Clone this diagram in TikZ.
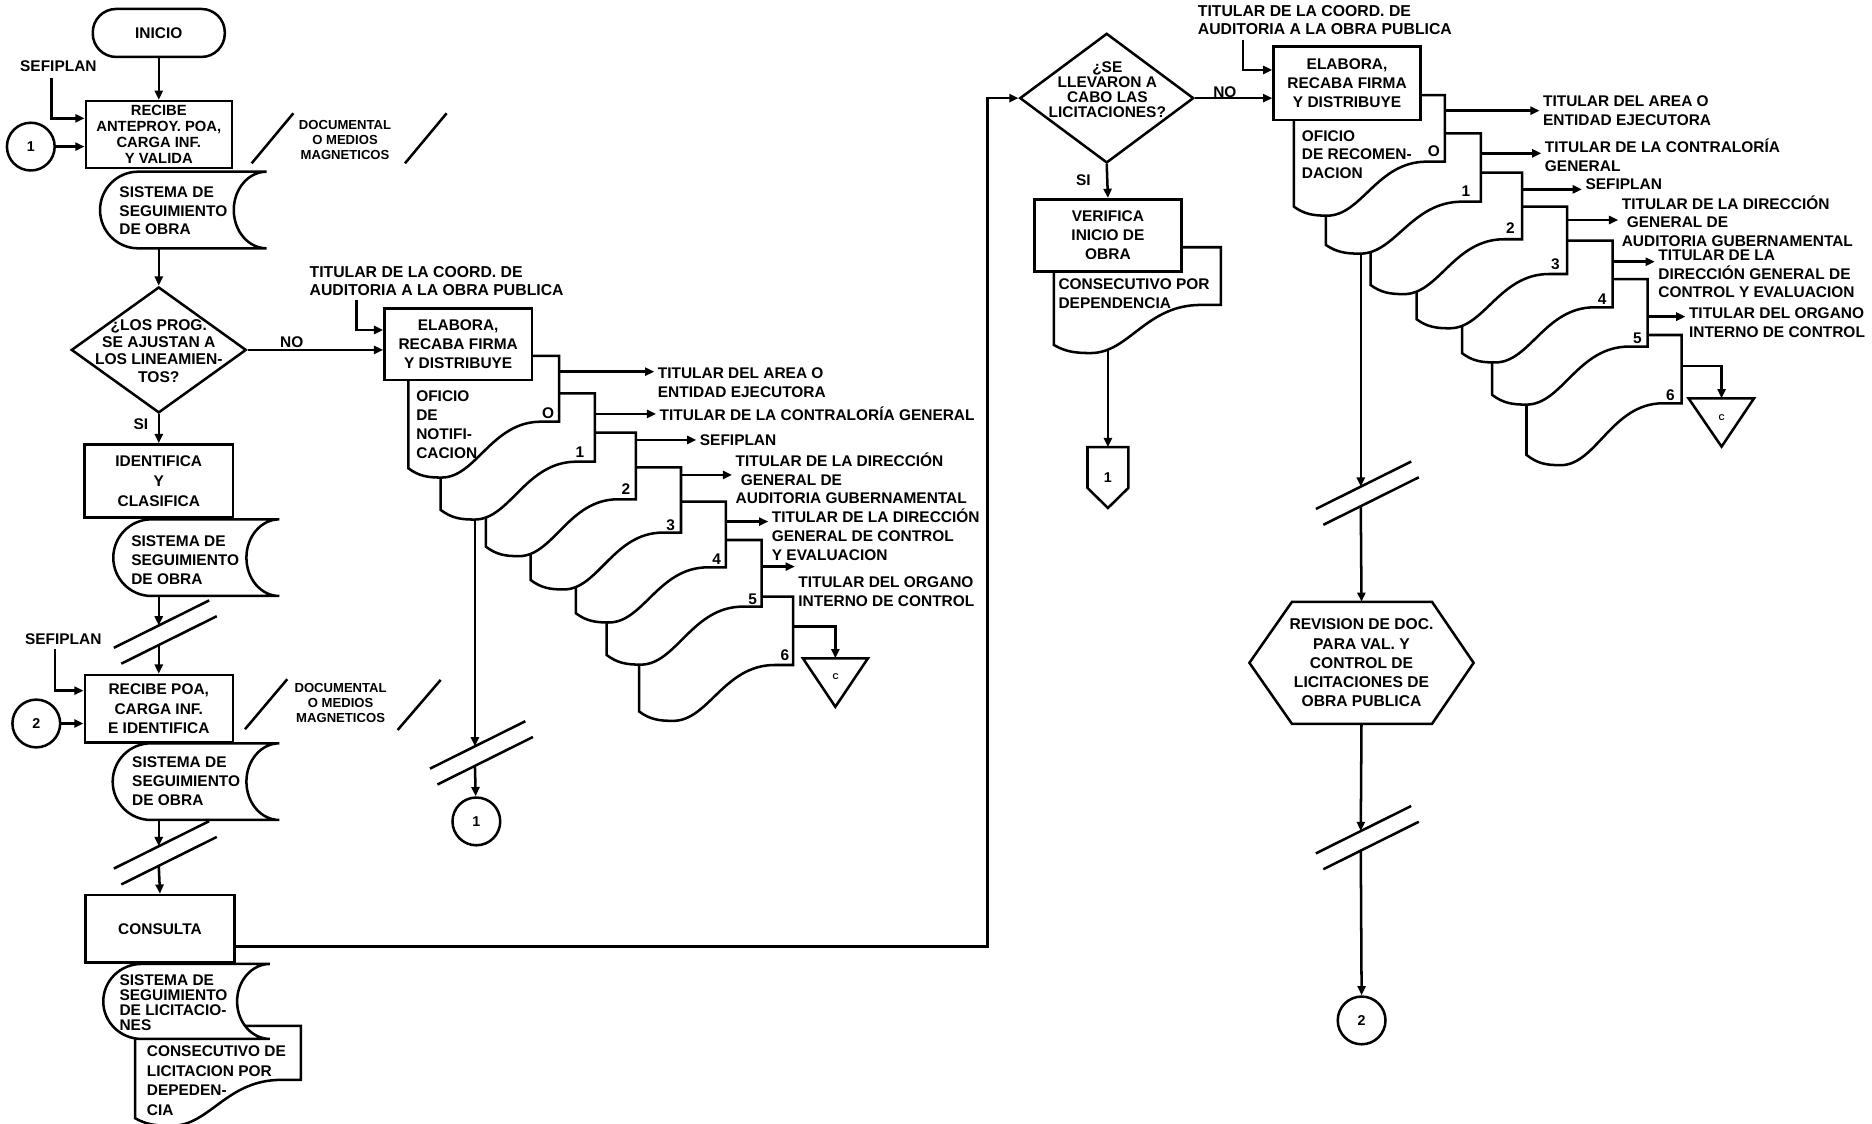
\documentclass[tikz,border=0pt]{standalone}
\usepackage{fontspec}
\setmainfont{Liberation Sans}
\usetikzlibrary{arrows.meta,shapes.geometric,calc}

\newcommand{\px}{0.025cm}

% stored data shape: x1, y1, x2, y2
\newcommand{\storeshape}[4]{%
  \pgfmathsetmacro{\smid}{(#2+#4)/2}%
  \pgfmathsetmacro{\shalf}{(#4-#2)/2}%
  \draw[fill=white] ({#1+32},#2) -- (#3,#2)
    .. controls ({#3-15.2},#2) and ({#3-27.5},{\smid-0.552*\shalf}) .. ({#3-27.5},\smid)
    .. controls ({#3-27.5},{\smid+0.552*\shalf}) and ({#3-15.2},#4) .. (#3,#4)
    -- ({#1+32},#4)
    .. controls ({#1+14.3},#4) and (#1,{\smid+0.552*\shalf}) .. (#1,\smid)
    .. controls (#1,{\smid-0.552*\shalf}) and ({#1+14.3},#2) .. ({#1+32},#2) -- cycle;}

% document shape: left, top, right, right bottom, left bottom
\newcommand{\docshape}[5]{%
  \pgfmathsetmacro{\dkw}{#3-#1}%
  \pgfmathsetmacro{\dkd}{#5-#4}%
  \draw[fill=white] (#1,#2) -- (#3,#2) -- (#3,#4) -- ({#1+0.88*\dkw},#4)
    .. controls ({#1+0.55*\dkw},#4) and ({#1+0.45*\dkw},{#5+0.2*\dkd}) .. ({#1+0.22*\dkw},{#5+0.2*\dkd})
    .. controls ({#1+0.13*\dkw},{#5+0.2*\dkd}) and ({#1+0.07*\dkw},{#5+0.17*\dkd}) .. (#1,#5) -- cycle;}

% break mark on a flow line: name, x, y of upper stroke
\newcommand{\breakmark}[3]{%
  \draw ({#2-37.6},{#3+18.7}) -- ({#2+42.2},{#3-21});
  \draw ({#2-31.4},{#3+32}) -- ({#2+48.6},{#3-7.8});
  \coordinate (#1a) at (#2,#3);
  \coordinate (#1b) at (#2,{#3+16.4});}

\begin{document}
\begin{tikzpicture}[x=\px, y=-\px, line width=1.5pt, >={Triangle[length=5.5pt,width=4.8pt]},
    lbl/.style={inner sep=0pt, align=left, font=\bfseries\fontsize{9.2}{11.2}\selectfont},
    procbox/.style={draw, fill=white, align=center, inner sep=0pt, font=\bfseries\fontsize{9.2}{11.4}\selectfont},
    term/.style={draw, rounded corners=0.49cm, inner sep=0pt, font=\bfseries\fontsize{9.2}{11}\selectfont},
    decision/.style={draw, diamond, inner sep=0pt},
    qtext/.style={inner sep=0pt, align=center, font=\bfseries\fontsize{9.3}{10.3}\selectfont},
    conn/.style={draw, circle, minimum size=40*\px, inner sep=0pt, font=\bfseries\fontsize{8.5}{10}\selectfont},
    media/.style={inner sep=0pt, align=center, font=\bfseries\fontsize{7.8}{9.1}\selectfont},
    sheetno/.style={inner sep=0pt, font=\bfseries\fontsize{9.2}{11}\selectfont},
    mergeletter/.style={inner sep=0pt, font=\bfseries\fontsize{5}{6}\selectfont},
    distarrow/.style={->, shorten >=1.4pt}
]
  \useasboundingbox (0,0) rectangle (1568,941);

  % ---------------- left column
  \node[term, minimum width=110.6*\px, minimum height=40.2*\px] (inicio) at (133,27.6) {INICIO};
  \node[lbl] (sef1) at (48.9,55.8) {SEFIPLAN};
  \node[procbox, minimum width=122.3*\px, minimum height=56.1*\px, font=\bfseries\fontsize{8.8}{9.5}\selectfont] (recibe) at (133,112.7) {RECIBE\\ANTEPROY. POA,\\CARGA INF.\\Y VALIDA};
  \node[conn] (c1) at (25.8,122.8) {1};
  \draw[->] (inicio) -- (recibe);
  \draw[->] ($(sef1.south)+(-5.6,4)$) |- ($(recibe.west)+(0,-13.6)$);
  \draw[->] (c1) -- (c1 -| recibe.west);

  \node[media] (med1) at (289,117.3) {DOCUMENTAL\\O MEDIOS\\MAGNETICOS};
  \draw (210.8,136.8) -- (245.7,94.9);
  \draw (339.2,136.8) -- (374.1,94.9);

  \storeshape{83.8}{143.8}{223.3}{208}
  \node[lbl, anchor=west] (sso1) at (99,176.5) {SISTEMA DE\\SEGUIMIENTO\\DE OBRA};
  \coordinate (sso1out) at (133,208);

  \node[decision, minimum width=146.6*\px, minimum height=105.5*\px] (q1) at (133,293.1) {};
  \node[qtext] (q1t) at (133,293.8) {¿LOS PROG.\\SE AJUSTAN A\\LOS LINEAMIEN-\\TOS?};
  \draw[->] (sso1out) -- (q1.north);
  \node[lbl] (no1) at (244.4,287) {NO};
  \node[lbl] (si1) at (118,355) {SI};

  \node[procbox, minimum width=124.2*\px, minimum height=61.4*\px, font=\bfseries\fontsize{9.2}{11.8}\selectfont] (ident) at (133,402.9) {IDENTIFICA\\Y\\CLASIFICA};
  \draw[->] (q1.south) -- (ident.north);
  \storeshape{94.9}{435}{233.9}{499.2}
  \node[lbl, anchor=west] (sso2) at (108.9,469.4) {SISTEMA DE\\SEGUIMIENTO\\DE OBRA};
  \coordinate (sso2out) at (133,499.2);
  \breakmark{bk1}{133}{523.9}
  \draw[->] (sso2out) -- (bk1a);

  \node[procbox, minimum width=124*\px, minimum height=56.7*\px] (recpoa) at (133,593.7) {RECIBE POA,\\CARGA INF.\\E IDENTIFICA};
  \draw[->] (bk1b) -- (recpoa.north);
  \node[lbl] (sef2) at (53,535.3) {SEFIPLAN};
  \draw[->] ($(sef2.south)+(-6.9,3)$) |- ($(recpoa.west)+(0,-15.2)$);
  \node[conn] (c2) at (30.4,606) {2};
  \draw[->] (c2) -- (c2 -| recpoa.west);
  \node[media] (med2) at (285.3,589) {DOCUMENTAL\\O MEDIOS\\MAGNETICOS};
  \draw (205.2,610.8) -- (240.6,568.9);
  \draw (333.1,611.4) -- (369.1,569.5);

  \storeshape{94.4}{622.6}{233.9}{686.8}
  \node[lbl, anchor=west] (sso3) at (109.7,654.3) {SISTEMA DE\\SEGUIMIENTO\\DE OBRA};
  \coordinate (sso3out) at (133,686.8);
  \breakmark{bk2}{133}{708.8}
  \draw[->] (sso3out) -- (bk2a);
  \node[procbox, minimum width=124.8*\px, minimum height=56.7*\px] (consulta) at (134,778) {CONSULTA};
  \draw[->] (bk2b) -- (consulta.north);

  \docshape{113.1}{859.3}{252.1}{904.5}{936.6}
  \storeshape{86.5}{807.4}{226.1}{870.2}
  \node[lbl, anchor=west, font=\bfseries\fontsize{9.2}{9}\selectfont] (ssl) at (99.1,840) {SISTEMA DE\\SEGUIMIENTO\\DE LICITACIO-\\NES};
  \node[lbl, anchor=west, font=\bfseries\fontsize{9.2}{11.6}\selectfont] (cld) at (122,905.2) {CONSECUTIVO DE\\LICITACION POR\\DEPEDEN-\\CIA};

  % ---------------- oficio de notificacion
  \node[lbl, anchor=west, font=\bfseries\fontsize{9.4}{10.7}\selectfont] (tit1) at (258.3,235.7) {TITULAR DE LA COORD. DE\\AUDITORIA A LA OBRA PUBLICA};
  \coordinate (stk1out) at (397.8,420);
  \breakmark{bk3}{397.8}{625.1}
  \draw[->] (stk1out) -- (bk3a);
  \docshape{535.4}{499.7}{664.4}{557}{596}
  \docshape{508.1}{452.3}{637.9}{508.1}{548.6}
  \docshape{482.4}{420.2}{608}{475.2}{513.7}
  \docshape{444.5}{391.4}{570.4}{446.1}{485.8}
  \docshape{407}{362.4}{532.7}{418.2}{457.9}
  \docshape{369.1}{329.4}{498.3}{386.7}{427.1}
  \docshape{342}{298.1}{468.4}{353.2}{392.2}
  \node[procbox, minimum width=123.6*\px, minimum height=60*\px] (elab1) at (383.8,288.2) {ELABORA,\\RECABA FIRMA\\Y DISTRIBUYE};
  \draw[->] (q1.east) -- (q1.east -| elab1.west);
  \draw[->] ($(tit1.south west)+(40.3,2)$) |- ($(elab1.west)+(0,-11.8)$);
  \node[lbl, anchor=west] (ofi1) at (347.6,355.7) {OFICIO\\DE\\NOTIFI-\\CACION};
  \node[sheetno] (s10) at (459.2,346.2) {O};
  \node[sheetno] (s11) at (485.8,379.1) {1};
  \node[sheetno] (s12) at (524.3,409.8) {2};
  \node[sheetno] (s13) at (561.7,440.3) {3};
  \node[sheetno] (s14) at (600.2,468.4) {4};
  \node[sheetno] (s15) at (630.4,502) {5};
  \node[sheetno] (s16) at (657.5,548.6) {6};

  \coordinate (o10) at (468.4,311.3);
  \coordinate (o11) at (498.3,346.7);
  \coordinate (o12) at (532.7,368.5);
  \coordinate (o13) at (570.4,397.8);
  \coordinate (o14) at (608,436.9);
  \coordinate (o15) at (637.9,474.6);
  \coordinate (o16) at (664.4,524.8);
  \node[lbl, anchor=west] (r11) at (550,320.3) {TITULAR DEL AREA O\\ENTIDAD EJECUTORA};
  \node[lbl, anchor=west] (r12) at (551.5,346.7) {TITULAR DE LA CONTRALORÍA GENERAL};
  \node[lbl, anchor=west] (r13) at (585.2,369) {SEFIPLAN};
  \node[lbl, anchor=west] (r14) at (615.2,400.7) {TITULAR DE LA DIRECCIÓN\\\hspace*{3pt}GENERAL DE\\AUDITORIA GUBERNAMENTAL};
  \node[lbl, anchor=west] (r15) at (645.5,447.9) {TITULAR DE LA DIRECCIÓN\\GENERAL DE CONTROL\\Y EVALUACION};
  \node[lbl, anchor=west] (r16) at (667.7,495.5) {TITULAR DEL ORGANO\\INTERNO DE CONTROL};
  \draw[distarrow] (o10) -- (o10 -| r11.west);
  \draw[distarrow] (o11) -- (o11 -| r12.west);
  \draw[distarrow] (o12) -- (o12 -| r13.west);
  \draw[distarrow] (o13) -- (o13 -| r14.west);
  \draw[distarrow] (o14) -- (o14 -| r15.west);
  \draw[distarrow] (o15) -- (o15 -| r16.west);
  \coordinate (tri1) at (699.7,551.4);
  \draw (672.5,551.4) -- (727,551.4) -- (699.7,592) -- cycle;
  \node[mergeletter] (cm1) at (700,567) {C};
  \draw[->] (o16) -| (tri1);
  \node[conn] (c1b) at (399,688) {1};
  \draw[->] (bk3b) -- (c1b);

  % ---------------- licitaciones
  \node[decision, minimum width=145.7*\px, minimum height=108.6*\px] (q2) at (927,82.2) {};
  \node[qtext, font=\bfseries\fontsize{9.2}{8.9}\selectfont] (q2t) at (927.5,75) {¿SE\\LLEVARON A\\CABO LAS\\LICITACIONES?};
  \draw[->] ($(consulta.east)+(0,15)$) -| ($(q2.west)+(-26,0)$) -- (q2.west);
  \node[lbl] (no2) at (1026,77) {NO};
  \node[lbl] (si2) at (907.4,150.8) {SI};

  \coordinate (verout) at (928,270);
  \node[inner sep=0pt, minimum width=32.1*\px, minimum height=48.9*\px, font=\bfseries\fontsize{8.5}{10}\selectfont] (off1) at (928,400) {1};
  \draw (off1.north west) -- (off1.north east) -- ($(off1.south east)+(0,-16.8)$) -- (off1.south) -- ($(off1.south west)+(0,-16.8)$) -- cycle;
  \draw[->] (verout) -- (off1.north);
  \docshape{882.8}{207.1}{1022.6}{255.4}{289}
  \node[procbox, minimum width=123.4*\px, minimum height=60.6*\px] (verif) at (928,197.2) {VERIFICA\\INICIO DE\\OBRA};
  \draw[->] (q2.south) -- (verif.north);
  \node[lbl, anchor=west] (cpd) at (885.6,246.1) {CONSECUTIVO POR\\DEPENDENCIA};

  % ---------------- oficio de recomendacion
  \node[lbl, anchor=west, font=\bfseries\fontsize{9.4}{10.7}\selectfont] (tit2) at (1002.3,16.7) {TITULAR DE LA COORD. DE\\AUDITORIA A LA OBRA PUBLICA};
  \coordinate (stk2out) at (1139.8,200);
  \breakmark{bk4}{1139.8}{407.6}
  \draw[->] (stk2out) -- (bk4a);
  \docshape{1278.6}{280.6}{1408.5}{337.8}{381}
  \docshape{1249.9}{233.7}{1380}{290.3}{330.8}
  \docshape{1224.7}{201.6}{1350.7}{257.4}{295.9}
  \docshape{1186.5}{173.1}{1312.7}{229.5}{267.4}
  \docshape{1148}{144.6}{1275}{200.4}{238.7}
  \docshape{1110.6}{111.7}{1240.4}{168.9}{205.2}
  \docshape{1083.8}{79.6}{1210.2}{135.4}{173.1}
  \node[procbox, minimum width=123.1*\px, minimum height=61.4*\px] (elab2) at (1128.3,69.8) {ELABORA,\\RECABA FIRMA\\Y DISTRIBUYE};
  \draw[->] (q2.east) -- (q2.east -| elab2.west);
  \draw[->] ($(tit2.south west)+(38.7,3.5)$) |- ($(elab2.west)+(0,-11.2)$);
  \node[lbl, anchor=west] (ofi2) at (1089.4,129.4) {OFICIO\\DE RECOMEN-\\DACION};
  \node[sheetno] (s20) at (1201,127) {O};
  \node[sheetno] (s21) at (1227.8,160) {1};
  \node[sheetno] (s22) at (1265.2,191.2) {2};
  \node[sheetno] (s23) at (1302.9,221.4) {3};
  \node[sheetno] (s24) at (1342,250.4) {4};
  \node[sheetno] (s25) at (1371.6,283.4) {5};
  \node[sheetno] (s26) at (1399.2,330.8) {6};

  \coordinate (o20) at (1210.2,92.7);
  \coordinate (o21) at (1240.4,128.4);
  \coordinate (o22) at (1275,158.6);
  \coordinate (o23) at (1312.7,184.3);
  \coordinate (o24) at (1350.7,219.2);
  \coordinate (o25) at (1380,265.2);
  \coordinate (o26) at (1408.5,306.5);
  \node[lbl, anchor=west] (r21) at (1291.5,92.9) {TITULAR DEL AREA O\\ENTIDAD EJECUTORA};
  \node[lbl, anchor=west] (r22) at (1293,129.7) {TITULAR DE LA CONTRALORÍA\\GENERAL};
  \node[lbl, anchor=west] (r23) at (1327,154) {SEFIPLAN};
  \node[lbl, anchor=west] (r24) at (1357.4,185.2) {TITULAR DE LA DIRECCIÓN\\\hspace*{3pt}GENERAL DE\\AUDITORIA GUBERNAMENTAL};
  \node[lbl, anchor=west] (r25) at (1388,229.4) {TITULAR DE LA\\DIRECCIÓN GENERAL DE\\CONTROL Y EVALUACION};
  \node[lbl, anchor=west] (r26) at (1413.7,270.5) {TITULAR DEL ORGANO\\INTERNO DE CONTROL};
  \draw[distarrow] (o20) -- (o20 -| r21.west);
  \draw[distarrow] (o21) -- (o21 -| r22.west);
  \draw[distarrow] (o22) -- (o22 -| r23.west);
  \draw[distarrow] (o23) -- (o23 -| r24.west);
  \draw[distarrow] (o24) -- (o24 -| r25.west);
  \draw[distarrow] (o25) -- (o25 -| r26.west);
  \coordinate (tri2) at (1442,333.6);
  \draw (1414.3,333.6) -- (1469.2,333.6) -- (1442,374.1) -- cycle;
  \node[mergeletter] (cm2) at (1442,350) {C};
  \draw[->] (o26) -| (tri2);

  % ---------------- revision
  \node[inner sep=0pt, align=center, minimum width=185.7*\px, minimum height=100.2*\px, font=\bfseries\fontsize{9.3}{11.4}\selectfont] (rev) at (1140.4,555.2) {REVISION DE DOC.\\PARA VAL. Y\\CONTROL DE\\LICITACIONES DE\\OBRA PUBLICA};
  \draw (rev.west) -- ($(rev.north west)+(35.7,0)$) -- ($(rev.north east)+(-34.9,0)$) -- (rev.east)
    -- ($(rev.south east)+(-34.9,0)$) -- ($(rev.south west)+(35.7,0)$) -- cycle;
  \draw[->] (bk4b) -- (rev.north);
  \breakmark{bk5}{1139.8}{696.1}
  \draw[->] (rev.south) -- (bk5a);
  \node[conn] (c2b) at (1140.5,854.7) {2};
  \draw[->] (bk5b) -- (c2b.north);
\end{tikzpicture}
\end{document}
